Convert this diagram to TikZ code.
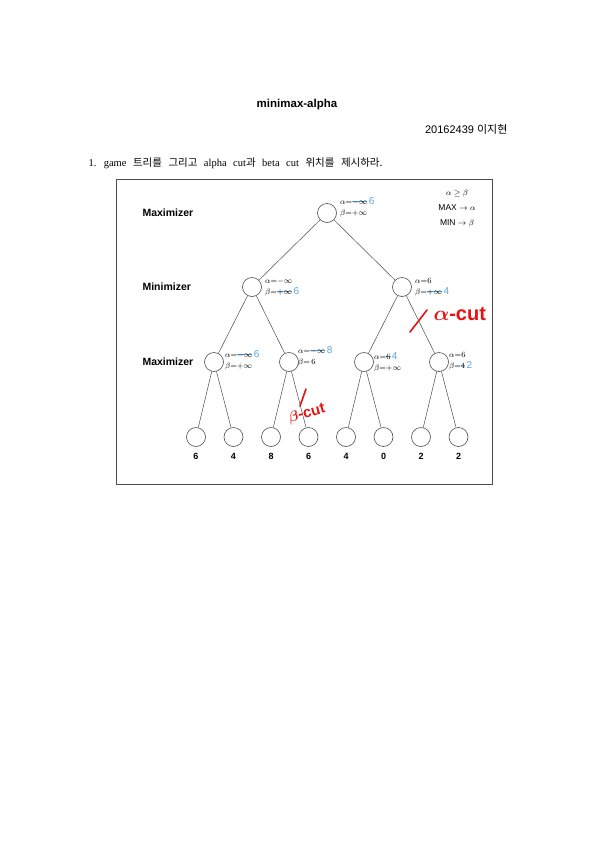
\documentclass[tikz,border=0pt]{standalone}
\usepackage{amsmath}
\usepackage{amssymb}
\usepackage{fontspec}
\setmainfont{Liberation Sans}
\newfontfamily\krfont{Noto Sans CJK KR}
\newfontfamily\serfont{Liberation Serif}
\definecolor{penblue}{RGB}{90,165,225}
\definecolor{penred}{RGB}{232,16,16}
\definecolor{scan}{RGB}{75,75,75}
\newcommand\strk[1]{\setbox0=\hbox{#1}\rlap{\textcolor{penblue}{\rule[0.55ex]{\wd0}{0.9pt}}}\box0}
\newcommand\pen[1]{\textcolor{penblue}{\mbox{\fontsize{10}{10}\selectfont #1}}}

\begin{document}
\begin{tikzpicture}[x=1pt, y=-1pt,
  state/.style={circle, draw=scan, line width=0.6pt, minimum size=19pt, inner sep=0pt},
  level/.style={anchor=west, font=\fontsize{10.5}{12}\selectfont\bfseries},
  leafval/.style={font=\fontsize{9}{10}\selectfont\bfseries},
  ab/.style={anchor=west, align=left, inner sep=0pt, font=\fontsize{8}{11}\selectfont},
  cut/.style={penred, line width=1.6pt, line cap=round}]
\useasboundingbox (0,0) rectangle (595,841);
% header
\node[font=\fontsize{11.5}{13}\selectfont\bfseries] (title) at (297,105) {minimax-alpha};
\node[anchor=east, font=\fontsize{11}{12}\selectfont] (who) at (511,129) {20162439 {\krfont 이지현}};
\node[anchor=west, font=\fontsize{10.5}{12}\selectfont] (q) at (85,163) {\spaceskip=6.5pt\serfont 1. game {\krfont 트리를 그리고} alpha cut{\krfont 과} beta cut {\krfont 위치를 제시하라.}};
% frame
\draw[scan, line width=0.9pt] (116,179) rectangle (492,484);
% levels
\node[level] (max1) at (139,213) {Maximizer};
\node[level] (min1) at (139,287) {Minimizer};
\node[level] (max2) at (139,362) {Maximizer};
% tree
\node[state] (root) at (327,213) {};
\node[state] (a) at (252,287) {};
\node[state] (b) at (402,287) {};
\node[state] (a1) at (214,362) {};
\node[state] (a2) at (289,362) {};
\node[state] (b1) at (364,362) {};
\node[state] (b2) at (439,362) {};
\foreach \v [count=\i] in {6,4,8,6,4,0,2,2} {
  \node[state] (l\i) at (158.5+37.5*\i,437) {};
  \node[leafval] (v\i) at (158.5+37.5*\i,456) {\v};
}
\draw[scan, line width=0.5pt] (root) -- (a) (root) -- (b) (a) -- (a1) (a) -- (a2) (b) -- (b1) (b) -- (b2);
\foreach \p/\c in {a1/1,a1/2,a2/3,a2/4,b1/5,b1/6,b2/7,b2/8}
  \draw[scan, line width=0.5pt] (\p) -- (l\c);
% alpha / beta values
\node[ab] (abroot) at (340,207) {$\alpha{=}\strk{$-\infty$}\,\pen{6}$\\$\beta{=}{+}\infty$};
\node[ab] (aba) at (265,287) {$\alpha{=}{-}\infty$\\$\beta{=}\strk{$+\infty$}\,\pen{6}$};
\node[ab] (abb) at (415,287) {$\alpha{=}6$\\$\beta{=}\strk{$+\infty$}\,\pen{4}$};
\node[ab] (aba1) at (225,360) {$\alpha{=}\strk{$-\infty$}\,\pen{6}$\\$\beta{=}{+}\infty$};
\node[ab] (aba2) at (298,356) {$\alpha{=}\strk{$-\infty$}\,\pen{8}$\\$\beta{=}\,6$};
\node[ab] (abb1) at (374,362) {$\alpha{=}\strk{$6$}\,\pen{4}$\\$\beta{=}{+}\infty$};
\node[ab] (abb2) at (449,361) {$\alpha{=}6$\\$\beta{=}\strk{$4$}\,\pen{2}$};
\node[ab, anchor=center, align=center, font=\fontsize{8.5}{15}\selectfont] (rule) at (457,208) {$\alpha\geq\beta$\\MAX $\to\alpha$\\MIN $\to\beta$};
% cuts
\draw[cut] (410,332) -- (427,310);
\node[penred, anchor=west, font=\fontsize{20}{22}\selectfont\bfseries] (acut) at (430,314) {$\boldsymbol{\alpha}$-cut};
\draw[cut] (300,406) -- (306,389);
\node[penred, rotate=15, font=\fontsize{15}{16}\selectfont\bfseries] (bcut) at (307,414) {$\boldsymbol{\beta}$-cut};
\end{tikzpicture}
\end{document}
